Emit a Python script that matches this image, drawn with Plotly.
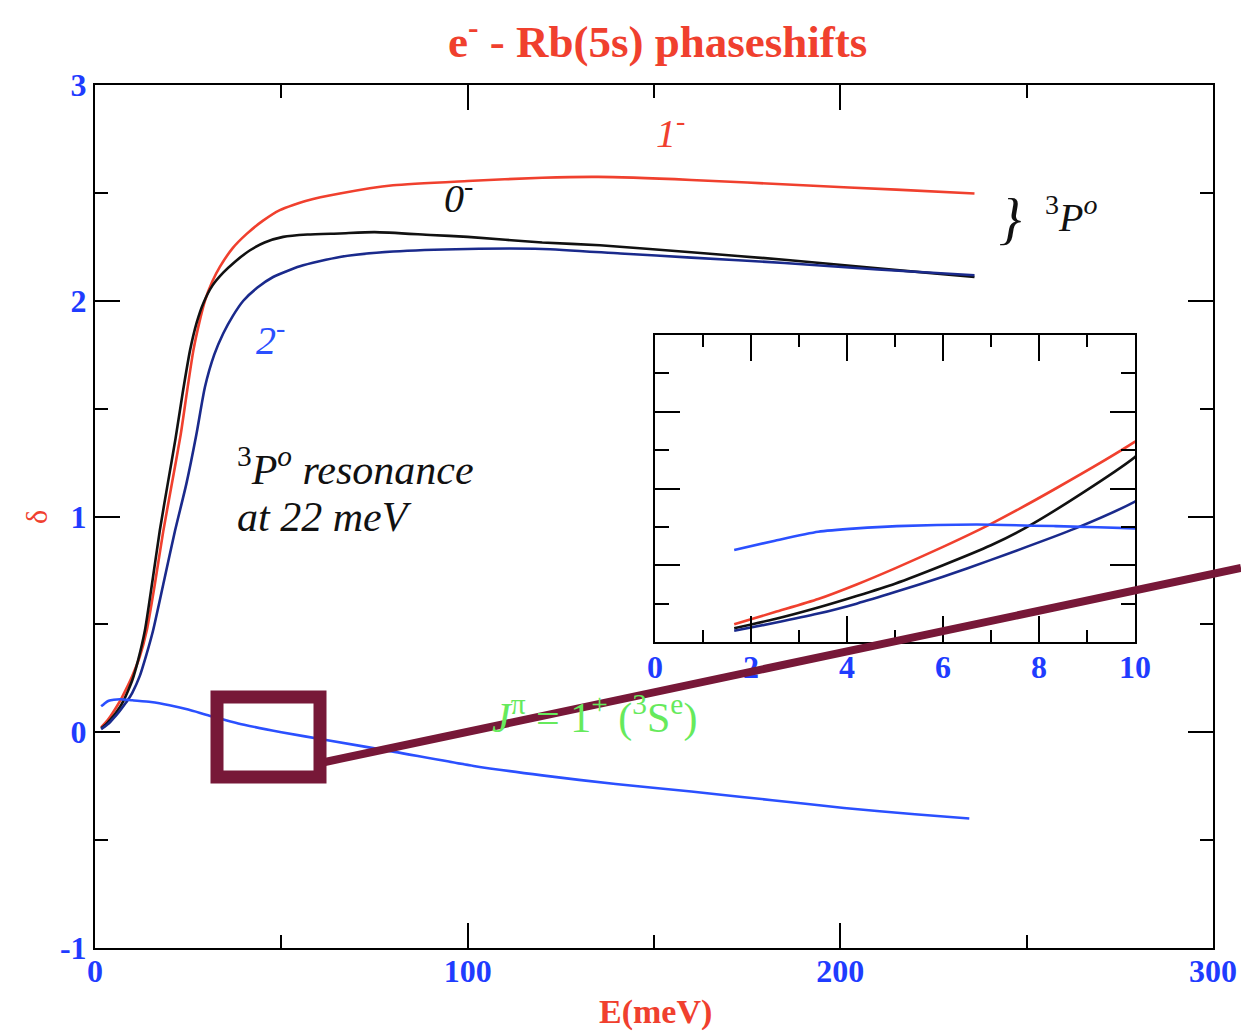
import plotly.graph_objects as go

# ---------------- data ----------------
# 1^- (red)
E_1m = [1.65, 2.5, 3.4, 4.2, 5.0, 6.0, 7.0, 8.35, 10, 12, 13.9, 16, 18.3, 20.5, 23, 24.7, 26.4, 28, 29.5,
        31.5, 33.5, 37, 40.7, 45, 49.6, 57, 65.7, 80, 100, 120, 135, 160, 190, 215, 236]
d_1m = [0.023, 0.039, 0.056, 0.075, 0.096, 0.124, 0.154, 0.200, 0.261, 0.35, 0.473, 0.68, 0.93, 1.14, 1.38,
        1.58, 1.77, 1.9, 2.0, 2.09, 2.157, 2.245, 2.31, 2.37, 2.42, 2.465, 2.497, 2.535, 2.555, 2.57, 2.574,
        2.56, 2.535, 2.515, 2.497]

# 0^- (black)
E_0m = [1.65, 2.5, 3.4, 4.2, 5.0, 6.0, 7.0, 7.7, 8.9, 10, 11.5, 13.4, 15.4, 17.4, 19.5, 21.6, 23.5, 25.5,
        27.3, 29.1, 31.5, 34.4, 37.5, 41.6, 45.5, 50.5, 57, 65.7, 75, 90, 100, 120, 135.5, 160, 185, 210, 236]
d_0m = [0.018, 0.03, 0.045, 0.06, 0.076, 0.1, 0.126, 0.148, 0.194, 0.241, 0.33, 0.473, 0.70, 0.936, 1.15,
        1.36, 1.57, 1.77, 1.9, 1.99, 2.07, 2.13, 2.18, 2.234, 2.27, 2.296, 2.307, 2.312, 2.318, 2.305, 2.296,
        2.27, 2.257, 2.225, 2.19, 2.15, 2.11]

# 2^- (dark blue)
E_2m = [1.65, 2.5, 3.4, 4.2, 5.0, 6.0, 7.0, 8.76, 10, 12, 13.8, 15.6, 18.5, 21.5, 24.5, 27.2, 29.5, 32,
        34.4, 37, 39.8, 43.5, 47.8, 55, 65.7, 80, 100, 120, 141, 160, 185, 210, 236]
d_2m = [0.0147, 0.025, 0.037, 0.05, 0.065, 0.085, 0.107, 0.148, 0.183, 0.26, 0.36, 0.473, 0.70, 0.936, 1.15,
        1.38, 1.6, 1.75, 1.848, 1.93, 2.0, 2.06, 2.11, 2.16, 2.203, 2.228, 2.24, 2.24, 2.219, 2.2, 2.175,
        2.145, 2.118]

# 1^+ (3S^e, light blue)
E_1p = [1.65, 2.5, 3.4, 4.2, 5.04, 6.7, 8.35, 10, 15, 20, 25, 30.7, 40, 50, 62.4, 80.4, 101.6, 120, 139.7,
        160, 173.6, 190, 201, 220, 234.6]
d_1p = [0.12, 0.132, 0.1436, 0.148, 0.151, 0.153, 0.151, 0.148, 0.14, 0.125, 0.105, 0.077, 0.035, 0.0,
        -0.037, -0.091, -0.156, -0.2, -0.24, -0.275, -0.30, -0.33, -0.351, -0.38, -0.40]

x_ticks = [0, 100, 200, 300]
x_ticktext = ["0", "100", "200", "300"]
x_minor = [50, 150, 250]
y_ticks = [-1, 0, 1, 2, 3]
y_ticktext = ["-1", "0", "1", "2", "3"]
y_minor = [-0.5, 0.5, 1.5, 2.5]
inset_x_ticks = [0, 2, 4, 6, 8, 10]
inset_x_ticktext = ["0", "2", "4", "6", "8", "10"]
inset_x_minor = [1, 3, 5, 7, 9]
inset_y_ticks = [0, 0.1, 0.2, 0.3, 0.4]
inset_y_minor = [0.05, 0.15, 0.25, 0.35]

# ---------------- style ----------------
RED = "#f0402e"
BLACK = "#111111"
NAVY = "#1a2a8c"
BLUE = "#2b50ff"
GREEN = "#66ea5c"
TICKBLUE = "#1f3cff"
MAROON = "#771838"
SERIF = "Liberation Serif"

series = [
    (E_1m, d_1m, RED, "1-"),
    (E_0m, d_0m, BLACK, "0-"),
    (E_2m, d_2m, NAVY, "2-"),
    (E_1p, d_1p, BLUE, "1+"),
]

fig = go.Figure()
for xa, ya in (("x", "y"), ("x2", "y2")):
    for E, d, c, n in series:
        fig.add_trace(go.Scatter(x=E, y=d, mode="lines",
                                 line=dict(color=c, width=2.6, shape="spline", smoothing=0.6),
                                 name=n, showlegend=False, xaxis=xa, yaxis=ya))

tickfont = dict(family=SERIF, size=32, color=TICKBLUE, weight="bold")

axis_common = dict(showline=True, linewidth=2, linecolor="black", mirror="ticks",
                   ticks="inside", tickwidth=2, tickcolor="black", showgrid=False,
                   zeroline=False, automargin=False)

W, H = 1241, 1031
L, R, T, B = 95, 28, 85, 83
pw, ph = W - L - R, H - T - B


def px2paper_x(px):
    return (px - L) / pw


def px2paper_y(py):
    return (H - B - py) / ph


minor_style = dict(ticks="inside", tickwidth=2, tickcolor="black")

fig.update_layout(
    width=W, height=H,
    margin=dict(l=L, r=R, t=T, b=B, autoexpand=False),
    paper_bgcolor="white", plot_bgcolor="white",
    xaxis=dict(range=[0, 300], tickvals=x_ticks, ticktext=x_ticktext, ticklen=25, tickfont=tickfont,
               ticklabelstandoff=-6,
               minor=dict(tickvals=x_minor, ticklen=13, **minor_style), **axis_common),
    yaxis=dict(range=[-1, 3], tickvals=y_ticks, ticktext=y_ticktext, ticklen=25, tickfont=tickfont,
               minor=dict(tickvals=y_minor, ticklen=13, **minor_style), **axis_common),
    xaxis2=dict(domain=[px2paper_x(655), px2paper_x(1135)], anchor="y2", range=[0, 10],
                tickvals=inset_x_ticks, ticktext=inset_x_ticktext, ticklen=26, tickfont=tickfont,
                ticklabelstandoff=-4,
                minor=dict(tickvals=inset_x_minor, ticklen=12, **minor_style), **axis_common),
    yaxis2=dict(domain=[px2paper_y(642), px2paper_y(335)], anchor="x2", range=[0, 0.4],
                tickvals=inset_y_ticks, ticklen=25, showticklabels=False,
                minor=dict(tickvals=inset_y_minor, ticklen=14, **minor_style), **axis_common),
)

ann = []
# title
ann.append(dict(text="<b>e<sup>-</sup> - Rb(5s) phaseshifts</b>", xref="paper", yref="paper",
                x=px2paper_x(657), y=px2paper_y(38), xanchor="center", yanchor="middle",
                showarrow=False, font=dict(family=SERIF, size=45, color=RED)))
# axis titles
ann.append(dict(text="<b>E(meV)</b>", xref="paper", yref="paper",
                x=px2paper_x(655), y=px2paper_y(1012), xanchor="center", yanchor="middle",
                showarrow=False, font=dict(family=SERIF, size=34, color=RED)))
ann.append(dict(text="δ", xref="paper", yref="paper", textangle=-90,
                x=px2paper_x(36), y=px2paper_y(517), xanchor="center", yanchor="middle",
                showarrow=False, font=dict(family=SERIF, size=30, color=RED)))
# curve labels
ann.append(dict(text="<i>1</i><sup>-</sup>", x=154.5, y=2.79, xref="x", yref="y", showarrow=False,
                font=dict(family=SERIF, size=40, color=RED)))
ann.append(dict(text="<i>0</i><sup>-</sup>", x=97.5, y=2.49, xref="x", yref="y", showarrow=False,
                font=dict(family=SERIF, size=40, color=BLACK)))
ann.append(dict(text="<i>2</i><sup>-</sup>", x=47, y=1.83, xref="x", yref="y", showarrow=False,
                font=dict(family=SERIF, size=40, color=BLUE)))
ann.append(dict(text="<i>}</i>", x=245.5, y=2.38, xref="x", yref="y", showarrow=False,
                font=dict(family=SERIF, size=56, color=BLACK)))
ann.append(dict(text="<sup>3</sup><i>P</i><sup><i>o</i></sup>", x=262, y=2.40, xref="x", yref="y",
                showarrow=False, font=dict(family=SERIF, size=40, color=BLACK)))
ann.append(dict(text="<sup>3</sup><i>P</i><sup><i>o</i></sup><i> resonance</i>",
                x=37.6, y=1.23, xref="x", yref="y", xanchor="left", yanchor="middle",
                showarrow=False, font=dict(family=SERIF, size=42, color=BLACK)))
ann.append(dict(text="<i>at 22 meV</i>",
                x=37.6, y=1.0, xref="x", yref="y", xanchor="left", yanchor="middle",
                showarrow=False, font=dict(family=SERIF, size=42, color=BLACK)))
ann.append(dict(text="<i>J</i><sup>π</sup> = 1<sup>+</sup> (<sup>3</sup>S<sup>e</sup>)",
                x=106, y=0.08, xref="x", yref="y", xanchor="left", yanchor="middle",
                showarrow=False, font=dict(family=SERIF, size=42, color=GREEN)))
fig.update_layout(annotations=ann)

# hand-drawn marker overlay (box + line)
fig.add_shape(type="rect", xref="paper", yref="paper",
              x0=px2paper_x(217), x1=px2paper_x(320), y0=px2paper_y(777), y1=px2paper_y(697),
              line=dict(color=MAROON, width=13), layer="above")
fig.add_shape(type="line", xref="paper", yref="paper",
              x0=px2paper_x(325), y0=px2paper_y(762), x1=px2paper_x(1241), y1=px2paper_y(568),
              line=dict(color=MAROON, width=8), layer="above")

fig.write_html("out.html", config={"displayModeBar": False},
               post_script="document.body.style.margin='0px';document.body.style.overflow='hidden';")
